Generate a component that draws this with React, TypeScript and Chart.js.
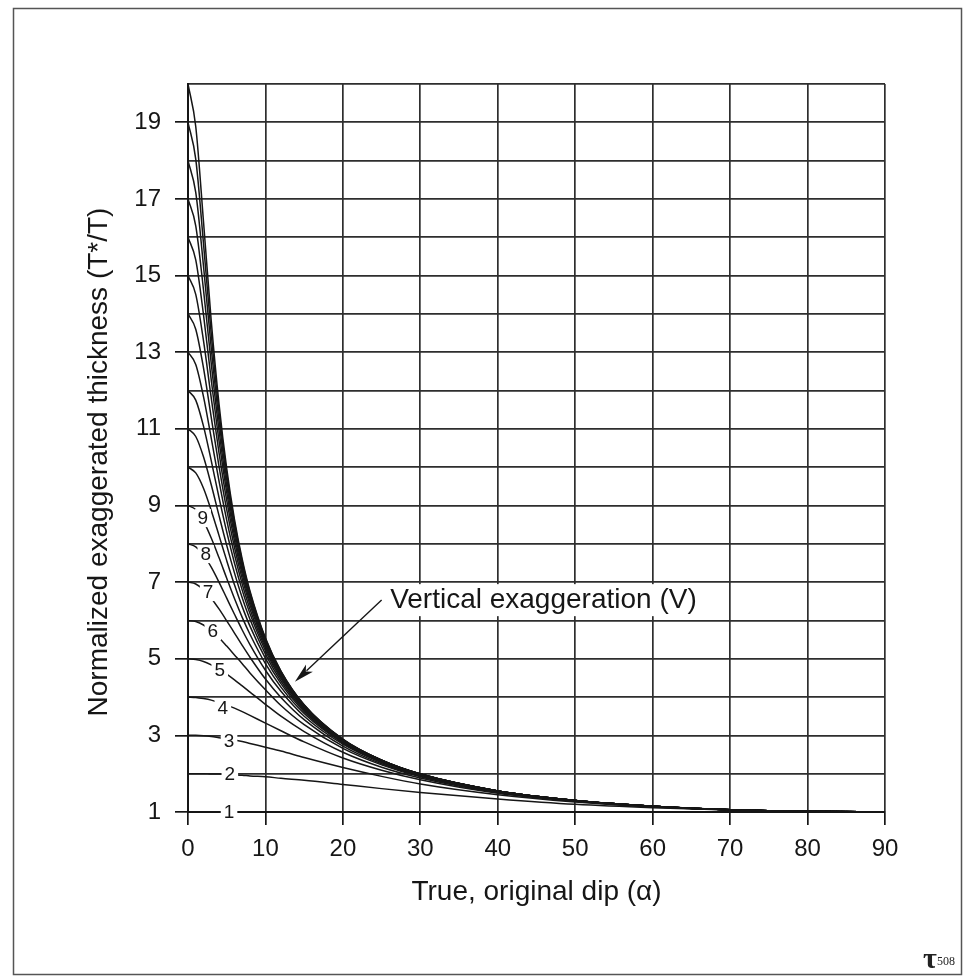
import React, { useEffect, useRef } from "react";
import { Chart, registerables } from "chart.js";
Chart.register(...registerables);

// True, original dip (degrees)
const dips = [0, 1, 2, 3, 4, 5, 6, 7, 8, 10, 12, 15, 20, 25, 30, 40, 50, 60, 70, 80, 90];

// Normalized exaggerated thickness (T*/T) for each vertical exaggeration V
const v1 = [1, 1, 1, 1, 1, 1, 1, 1, 1, 1, 1, 1, 1, 1, 1, 1, 1, 1, 1, 1, 1];
const v2 = [2, 2.0, 2.0, 1.99, 1.99, 1.98, 1.97, 1.96, 1.94, 1.92, 1.88, 1.83, 1.72, 1.61, 1.51, 1.34, 1.2, 1.11, 1.05, 1.01, 1];
const v3 = [3, 3.0, 2.99, 2.97, 2.94, 2.91, 2.88, 2.84, 2.79, 2.69, 2.59, 2.42, 2.16, 1.93, 1.73, 1.45, 1.26, 1.13, 1.06, 1.01, 1];
const v4 = [4, 3.99, 3.96, 3.92, 3.86, 3.79, 3.71, 3.62, 3.52, 3.32, 3.12, 2.83, 2.41, 2.09, 1.84, 1.49, 1.28, 1.14, 1.06, 1.01, 1];
const v5 = [5, 4.98, 4.93, 4.84, 4.73, 4.6, 4.45, 4.29, 4.13, 3.81, 3.5, 3.1, 2.56, 2.17, 1.89, 1.51, 1.29, 1.15, 1.06, 1.01, 1];
const v6 = [6, 5.97, 5.88, 5.73, 5.55, 5.33, 5.1, 4.87, 4.63, 4.19, 3.78, 3.28, 2.66, 2.23, 1.92, 1.53, 1.29, 1.15, 1.06, 1.02, 1];
const v7 = [7, 6.95, 6.8, 6.58, 6.3, 5.99, 5.67, 5.35, 5.04, 4.47, 3.99, 3.41, 2.72, 2.26, 1.94, 1.53, 1.3, 1.15, 1.06, 1.02, 1];
const v8 = [8, 7.92, 7.71, 7.39, 7.0, 6.58, 6.16, 5.75, 5.37, 4.7, 4.15, 3.5, 2.77, 2.29, 1.95, 1.54, 1.3, 1.15, 1.06, 1.02, 1];
const v9 = [9, 8.89, 8.59, 8.15, 7.64, 7.1, 6.57, 6.08, 5.64, 4.87, 4.26, 3.57, 2.8, 2.3, 1.96, 1.54, 1.3, 1.15, 1.06, 1.02, 1];
const v10 = [10, 9.85, 9.45, 8.87, 8.22, 7.56, 6.93, 6.36, 5.85, 5.01, 4.35, 3.62, 2.82, 2.31, 1.97, 1.54, 1.3, 1.15, 1.06, 1.02, 1];
const v11 = [11, 10.8, 10.27, 9.54, 8.74, 7.96, 7.24, 6.59, 6.03, 5.12, 4.42, 3.66, 2.84, 2.32, 1.98, 1.55, 1.3, 1.15, 1.06, 1.02, 1];
const v12 = [12, 11.75, 11.07, 10.17, 9.21, 8.31, 7.5, 6.79, 6.18, 5.21, 4.48, 3.69, 2.85, 2.33, 1.98, 1.55, 1.3, 1.15, 1.06, 1.02, 1];
const v13 = [13, 12.68, 11.84, 10.76, 9.64, 8.62, 7.72, 6.95, 6.3, 5.28, 4.52, 3.71, 2.86, 2.33, 1.98, 1.55, 1.3, 1.15, 1.06, 1.02, 1];
const v14 = [14, 13.6, 12.59, 11.3, 10.03, 8.89, 7.91, 7.09, 6.41, 5.34, 4.56, 3.73, 2.87, 2.34, 1.98, 1.55, 1.3, 1.15, 1.06, 1.02, 1];
const v15 = [15, 14.51, 13.3, 11.81, 10.38, 9.13, 8.08, 7.21, 6.49, 5.39, 4.59, 3.75, 2.88, 2.34, 1.99, 1.55, 1.3, 1.15, 1.06, 1.02, 1];
const v16 = [16, 15.41, 13.98, 12.28, 10.69, 9.34, 8.22, 7.31, 6.57, 5.43, 4.61, 3.76, 2.88, 2.35, 1.99, 1.55, 1.3, 1.15, 1.06, 1.02, 1];
const v17 = [17, 16.3, 14.63, 12.71, 10.97, 9.52, 8.35, 7.4, 6.63, 5.46, 4.64, 3.77, 2.89, 2.35, 1.99, 1.55, 1.3, 1.15, 1.06, 1.02, 1];
const v18 = [18, 17.17, 15.25, 13.11, 11.22, 9.69, 8.46, 7.48, 6.68, 5.49, 4.65, 3.78, 2.89, 2.35, 1.99, 1.55, 1.3, 1.15, 1.06, 1.02, 1];
const v19 = [19, 18.04, 15.84, 13.48, 11.45, 9.83, 8.55, 7.54, 6.73, 5.52, 4.67, 3.79, 2.89, 2.35, 1.99, 1.55, 1.3, 1.15, 1.06, 1.02, 1];
const v20 = [20, 18.89, 16.41, 13.82, 11.66, 9.96, 8.64, 7.6, 6.77, 5.54, 4.68, 3.8, 2.9, 2.35, 1.99, 1.55, 1.3, 1.15, 1.06, 1.02, 1];

const series = [v1, v2, v3, v4, v5, v6, v7, v8, v9, v10, v11, v12, v13, v14, v15, v16, v17, v18, v19, v20];

// Inline curve labels (V = 1..9), placed on the curves
const curveLabels = ["1", "2", "3", "4", "5", "6", "7", "8", "9"];
const labelDips = [5.3, 5.4, 5.3, 4.5, 4.1, 3.2, 2.6, 2.3, 1.9];
const labelValues = [1.0, 1.99, 2.85, 3.71, 4.71, 5.72, 6.74, 7.73, 8.67];

// Annotation
const annotationText = "Vertical exaggeration (V)";
const annotationPos = { x: 26.1, y: 6.32 };
const arrowFrom = { x: 25.0, y: 6.53 };
const arrowTo = { x: 13.8, y: 4.4 };

const xTitle = "True, original dip (\u03b1)";
const yTitle = "Normalized exaggerated thickness (T*/T)";

const FONT = '"Liberation Sans", Arial, Helvetica, sans-serif';
const INK = "#161616";
const GRID = "#2e2e2e";

const decorPlugin = {
  id: "decor",
  afterDatasetsDraw(chart: any) {
    const { ctx } = chart;
    const x = chart.scales.x;
    const y = chart.scales.y;
    ctx.save();
    // inline curve labels with white knock-out
    ctx.font = `19px ${FONT}`;
    ctx.textAlign = "center";
    ctx.textBaseline = "middle";
    curveLabels.forEach((t, i) => {
      const px = x.getPixelForValue(labelDips[i]);
      const py = y.getPixelForValue(labelValues[i]);
      const w = ctx.measureText(t).width + 6;
      ctx.fillStyle = "#ffffff";
      ctx.fillRect(px - w / 2, py - 9, w, 18);
      ctx.fillStyle = INK;
      ctx.fillText(t, px, py + 1);
    });

    // annotation text
    ctx.font = `28px ${FONT}`;
    ctx.textAlign = "left";
    ctx.textBaseline = "alphabetic";
    const ax = x.getPixelForValue(annotationPos.x);
    const ay = y.getPixelForValue(annotationPos.y);
    const tw = ctx.measureText(annotationText).width;
    ctx.fillStyle = "#ffffff";
    ctx.fillRect(ax - 3, ay - 24, tw + 6, 32);
    ctx.fillStyle = INK;
    ctx.fillText(annotationText, ax, ay);

    // arrow
    const x0 = x.getPixelForValue(arrowFrom.x);
    const y0 = y.getPixelForValue(arrowFrom.y);
    const x1 = x.getPixelForValue(arrowTo.x);
    const y1 = y.getPixelForValue(arrowTo.y);
    const ang = Math.atan2(y1 - y0, x1 - x0);
    const L = 20;
    const H = 5;
    ctx.strokeStyle = INK;
    ctx.lineWidth = 1.4;
    ctx.beginPath();
    ctx.moveTo(x0, y0);
    ctx.lineTo(x1 - Math.cos(ang) * (L - 4), y1 - Math.sin(ang) * (L - 4));
    ctx.stroke();
    ctx.fillStyle = INK;
    ctx.beginPath();
    ctx.moveTo(x1, y1);
    ctx.lineTo(
      x1 - Math.cos(ang) * L - Math.sin(ang) * H,
      y1 - Math.sin(ang) * L + Math.cos(ang) * H
    );
    ctx.lineTo(x1 - Math.cos(ang) * (L - 5), y1 - Math.sin(ang) * (L - 5));
    ctx.lineTo(
      x1 - Math.cos(ang) * L + Math.sin(ang) * H,
      y1 - Math.sin(ang) * L - Math.cos(ang) * H
    );
    ctx.closePath();
    ctx.fill();
    ctx.restore();
  },
  afterDraw(chart: any) {
    const { ctx, chartArea } = chart;
    ctx.save();
    // axis titles
    ctx.fillStyle = INK;
    ctx.font = `28px ${FONT}`;
    ctx.textAlign = "center";
    ctx.textBaseline = "alphabetic";
    ctx.fillText(xTitle, (chartArea.left + chartArea.right) / 2, 900);
    ctx.save();
    ctx.translate(107, 462);
    ctx.rotate(-Math.PI / 2);
    ctx.fillText(yTitle, 0, 0);
    ctx.restore();

    // outer frame
    ctx.strokeStyle = "#555555";
    ctx.lineWidth = 1.5;
    ctx.strokeRect(13.5, 8.5, 948, 966);

    // publisher mark
    ctx.fillStyle = "#222";
    ctx.font = 'bold 30px "Liberation Serif", "DejaVu Serif", serif';
    ctx.textAlign = "center";
    ctx.fillText("\u03c4", 930, 968);
    ctx.font = '12px "Liberation Serif", "DejaVu Serif", serif';
    ctx.textAlign = "left";
    ctx.fillText("508", 937, 965);
    ctx.restore();
  },
};

export default function App() {
  const ref = useRef<HTMLCanvasElement | null>(null);
  useEffect(() => {
    if (!ref.current) return;
    const datasets = series.map((vals, i) => ({
      label: `V=${i + 1}`,
      data: dips.map((a, j) => ({ x: a, y: vals[j] })),
      borderColor: INK,
      borderWidth: 1.5,
      pointRadius: 0,
      fill: false,
      cubicInterpolationMode: "monotone" as const,
      clip: 3,
    }));
    const chart = new Chart(ref.current, {
      type: "line",
      data: { datasets },
      plugins: [decorPlugin],
      options: {
        animation: false,
        responsive: false,
        maintainAspectRatio: false,
        layout: { padding: { left: 0, top: 84, right: 78, bottom: 0 } },
        plugins: { legend: { display: false }, tooltip: { enabled: false }, title: { display: false } },
        scales: {
          x: {
            type: "linear",
            min: 0,
            max: 90,
            afterFit: (s: any) => {
              s.height = 166;
            },
            ticks: {
              stepSize: 10,
              color: INK,
              padding: 10,
              font: { family: FONT, size: 24 },
            },
            grid: {
              color: GRID,
              lineWidth: 1.7,
              tickLength: 13,
              tickColor: INK,
              tickWidth: 1.7,
            },
            border: { color: INK, width: 2 },
          },
          y: {
            type: "linear",
            min: 1,
            max: 20,
            afterFit: (s: any) => {
              s.width = 188;
            },
            ticks: {
              stepSize: 1,
              autoSkip: false,
              color: INK,
              padding: 14,
              font: { family: FONT, size: 24 },
              callback: (v: any) => (Number(v) % 2 === 1 ? String(v) : ""),
            },
            grid: {
              color: GRID,
              lineWidth: 1.7,
              tickLength: 13,
              tickWidth: 1.7,
              tickColor: (c: any) => (c.tick && c.tick.value % 2 === 1 ? INK : "rgba(0,0,0,0)"),
            },
            border: { color: INK, width: 2 },
          },
        },
      },
    });
    return () => chart.destroy();
  }, []);
  return (
    <div style={{ position: "absolute", left: 0, top: 0, width: 963, height: 978, background: "#fff" }}>
      <canvas ref={ref} width={963} height={978} style={{ width: 963, height: 978, display: "block" }} />
    </div>
  );
}
